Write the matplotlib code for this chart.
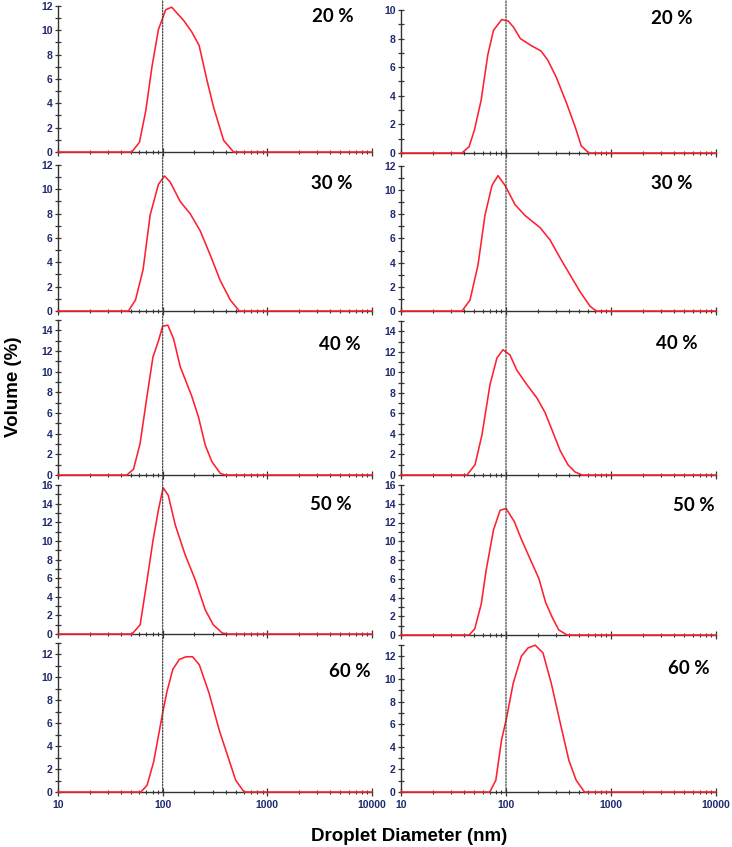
import matplotlib
matplotlib.use('Agg')
import matplotlib.pyplot as plt
from matplotlib.patches import ConnectionPatch
from matplotlib.transforms import blended_transform_factory
from matplotlib.ticker import MultipleLocator, LogLocator, FixedLocator, FixedFormatter, NullFormatter

# ---------------- data ----------------
concentrations = ['20 %', '30 %', '40 %', '50 %', '60 %']
x_ticks = [10, 100, 1000, 10000]
x_tick_labels = ['10', '100', '1000', '10000']
left_ymax = [12, 12, 15, 16, 13]
right_ymax = [10, 12, 15, 16, 13]

left_20_d = [10, 50.7, 60, 69, 79, 91, 107, 122, 159, 190, 223, 265, 306, 382, 476, 10000]
left_20_v = [0, 0, 0.8, 3.4, 7.0, 10.05, 11.7, 11.9, 10.8, 9.86, 8.76, 5.9, 3.7, 0.96, 0, 0]

left_30_d = [10, 47, 55, 65, 76, 91, 104, 118, 147, 183, 228, 285, 355, 443, 540, 10000]
left_30_v = [0, 0, 0.9, 3.4, 7.9, 10.4, 11.1, 10.6, 9.0, 8.0, 6.6, 4.6, 2.5, 0.9, 0, 0]

left_40_d = [10, 45.4, 52.6, 60.9, 70.7, 80.7, 91.3, 100, 112, 127, 147, 190, 220, 255, 295, 355, 396, 10000]
left_40_v = [0, 0, 0.55, 3.06, 7.56, 11.4, 13.0, 14.4, 14.5, 13.2, 10.5, 7.6, 5.6, 2.9, 1.3, 0.16, 0, 0]

left_50_d = [10, 51, 61, 71, 81, 91, 101, 113, 132, 164, 205, 255, 304, 371, 424, 10000]
left_50_v = [0, 0, 1.0, 5.8, 10.1, 13.3, 15.7, 14.9, 11.7, 8.5, 5.8, 2.6, 1.0, 0.1, 0, 0]

left_60_d = [10, 62, 71, 82, 100, 110, 125, 144, 167, 193, 224, 278, 347, 431, 499, 600, 10000]
left_60_v = [0, 0, 0.59, 2.63, 6.9, 8.78, 10.7, 11.56, 11.8, 11.8, 11.1, 8.6, 5.4, 2.78, 1.02, 0, 0]

right_20_d = [10, 38, 44.5, 50, 58, 67, 76, 91, 105, 118, 137, 172, 215, 250, 301, 378, 455, 521, 614, 10000]
right_20_v = [0, 0, 0.44, 1.6, 3.7, 6.84, 8.58, 9.33, 9.23, 8.8, 8.0, 7.53, 7.14, 6.5, 5.3, 3.47, 1.84, 0.5, 0, 0]

right_30_d = [10, 38.1, 45.4, 54.1, 63, 73.6, 83.9, 97.8, 122, 152, 211, 262, 327, 407, 507, 631, 720, 10000]
right_30_v = [0, 0, 0.9, 3.8, 7.9, 10.4, 11.2, 10.4, 8.8, 7.9, 6.9, 5.9, 4.4, 3.0, 1.6, 0.4, 0, 0]

right_40_d = [10, 42.5, 50.7, 59, 70.4, 82, 93.6, 109, 127, 158, 197, 235, 274, 327, 389, 454, 529, 10000]
right_40_v = [0, 0, 1.0, 3.9, 8.8, 11.4, 12.2, 11.7, 10.2, 8.8, 7.5, 6.1, 4.4, 2.4, 1.0, 0.3, 0, 0]

right_50_d = [10, 44.5, 50.3, 58.1, 64.7, 76, 87.8, 100, 120, 139, 172, 206, 238, 275, 318, 382, 10000]
right_50_v = [0, 0, 0.64, 3.3, 6.9, 11.2, 13.3, 13.5, 12.1, 10.3, 7.96, 6.0, 3.5, 1.9, 0.54, 0, 0]

right_60_d = [10, 70, 80, 90.7, 101, 117, 140, 162, 190, 225, 270, 323, 397, 466, 559, 10000]
right_60_v = [0, 0, 1.04, 4.6, 6.5, 9.6, 12.0, 12.74, 12.98, 12.3, 9.6, 6.4, 2.8, 1.04, 0, 0]

left_series = [(left_20_d, left_20_v), (left_30_d, left_30_v), (left_40_d, left_40_v),
               (left_50_d, left_50_v), (left_60_d, left_60_v)]
right_series = [(right_20_d, right_20_v), (right_30_d, right_30_v), (right_40_d, right_40_v),
                (right_50_d, right_50_v), (right_60_d, right_60_v)]

# ---------------- layout (pixels) ----------------
W, H = 732, 847
left_cols = (58, 372)
right_cols = (401, 716)
left_rows = [(6, 152), (165, 311), (320, 475), (485, 634), (643, 792)]
right_rows = [(10, 153), (166, 311), (321, 475), (485, 635), (645, 792)]
left_label_pos = [(333, 17), (332, 183), (340, 345), (331, 504), (350, 671)]
right_label_pos = [(672, 18), (672, 183), (677, 343), (694, 505), (689, 669)]

LINE_RED = '#ff1f2f'
SPINE = '#333333'
TICK_TXT = '#1f2a6e'
AXFONT = 'Liberation Sans'

fig = plt.figure(figsize=(W / 100, H / 100), dpi=100)


def make_panel(cols, rows, ymax, d, v, bottom):
    x0, x1 = cols
    t, b = rows
    ax = fig.add_axes([x0 / W, 1 - b / H, (x1 - x0) / W, (b - t) / H])
    ax.set_xscale('log')
    ax.set_xlim(10, 10000)
    ax.set_ylim(0, ymax)
    ax.patch.set_alpha(0)
    for s in ('top', 'right'):
        ax.spines[s].set_visible(False)
    for s in ('left', 'bottom'):
        ax.spines[s].set_color(SPINE)
        ax.spines[s].set_linewidth(1.0)
    ax.plot(d, v, color=LINE_RED, lw=1.15, zorder=3, clip_on=False)
    ax.yaxis.set_major_locator(MultipleLocator(2))
    ax.yaxis.set_minor_locator(MultipleLocator(1))
    ax.xaxis.set_major_locator(FixedLocator(x_ticks))
    ax.xaxis.set_minor_locator(LogLocator(base=10, subs=range(2, 10), numticks=20))
    ax.xaxis.set_minor_formatter(NullFormatter())
    ax.tick_params(axis='y', which='major', direction='inout', length=5, width=0.9,
                   color=SPINE, pad=1.5, labelsize=7.5, labelcolor=TICK_TXT)
    ax.tick_params(axis='y', which='minor', direction='inout', length=4, width=0.9, color=SPINE)
    ax.tick_params(axis='x', which='major', direction='inout', length=6, width=0.9,
                   color=SPINE, pad=3, labelsize=7.5, labelcolor=TICK_TXT)
    ax.tick_params(axis='x', which='minor', direction='inout', length=3.5, width=0.8, color=SPINE)
    if bottom:
        ax.xaxis.set_major_formatter(FixedFormatter(x_tick_labels))
    else:
        ax.xaxis.set_major_formatter(NullFormatter())
    for lab in ax.get_yticklabels() + ax.get_xticklabels():
        lab.set_fontweight('bold')
        lab.set_fontfamily(AXFONT)
    return ax


for cols, rows_px, ymaxes, series, lpos in [
        (left_cols, left_rows, left_ymax, left_series, left_label_pos),
        (right_cols, right_rows, right_ymax, right_series, right_label_pos)]:
    axes = []
    for i in range(5):
        d, v = series[i]
        ax = make_panel(cols, rows_px[i], ymaxes[i], d, v, bottom=(i == 4))
        axes.append(ax)
        fig.text(lpos[i][0] / W, 1 - lpos[i][1] / H, concentrations[i],
                 ha='center', va='center', fontsize=13.5, fontweight='bold',
                 family='Lato', color='black')
    # dotted reference line at 100 nm spanning all panels in the column
    top_ax, bot_ax = axes[0], axes[-1]
    con = ConnectionPatch(xyA=(100, 0), coordsA=bot_ax.transData,
                          xyB=(100, 1.0),
                          coordsB=blended_transform_factory(top_ax.transData, fig.transFigure),
                          color='#444444', linestyle=(0, (1.2, 1.2)), linewidth=0.9, zorder=1)
    fig.add_artist(con)

fig.text(14 / W, 1 - 387 / H, 'Volume (%)', rotation=90, ha='center', va='center',
         fontsize=13.5, fontweight='bold', family=AXFONT, color='black')
fig.text(409 / W, 1 - 836 / H, 'Droplet Diameter (nm)', ha='center', va='center',
         fontsize=13.5, fontweight='bold', family=AXFONT, color='black')

fig.savefig('out.png', dpi=100)
